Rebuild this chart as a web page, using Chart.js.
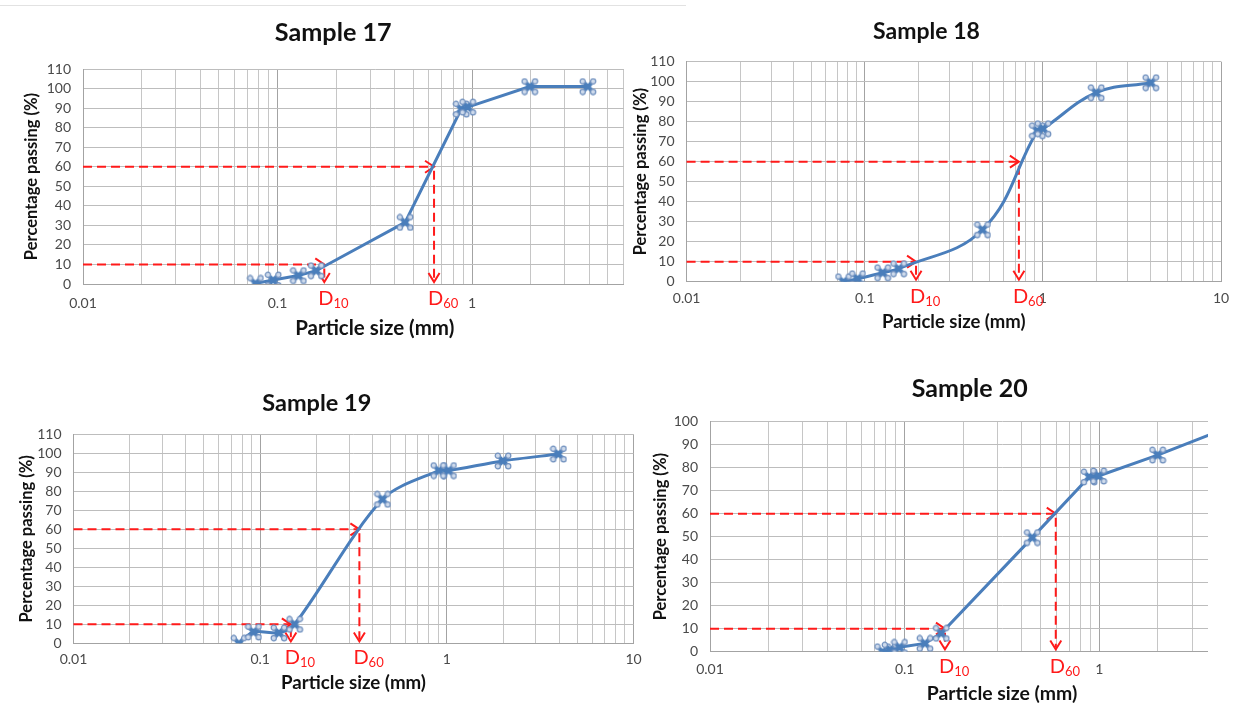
<!DOCTYPE html>
<html>
<head>
<meta charset="utf-8">
<script src="https://cdn.jsdelivr.net/npm/chart.js@4.4.1/dist/chart.umd.min.js"></script>
<style>
  body { margin: 0; background: #fff; width: 1242px; height: 706px; position: relative; overflow: hidden; }
  .panel { position: absolute; overflow: hidden; }
  .panel canvas { display: block; }
  .topline { position: absolute; left: 0; top: 5px; width: 686px; height: 1px; background: #e2e2e2; }
</style>
</head>
<body>
<div class="topline"></div>
<div class="panel" style="left:0;top:0;width:624px;height:345px"><canvas id="c17" width="690" height="345"></canvas></div>
<div class="panel" style="left:624px;top:8px;width:618px;height:332px"><canvas id="c18" width="614" height="332"></canvas></div>
<div class="panel" style="left:0;top:380px;width:650px;height:320px"><canvas id="c19" width="650" height="320"></canvas></div>
<div class="panel" style="left:640px;top:366px;width:568px;height:340px"><canvas id="c20" width="672" height="340"></canvas></div>
<script>
// sieve sizes (mm) and % passing
const size17 = [0.077, 0.095, 0.128, 0.158, 0.453, 0.88, 0.95, 1.98, 3.94];
const pass17 = [0.3, 2, 4.3, 6.8, 31.5, 89.5, 90.5, 101, 101];

const size18 = [0.076, 0.091, 0.126, 0.155, 0.458, 0.93, 1.0, 1.99, 4.03];
const pass18 = [0, 1.5, 4.5, 6.5, 26, 75.5, 76.5, 94.5, 99.5];

const size19 = [0.077, 0.092, 0.126, 0.153, 0.452, 0.906, 1.02, 2.0, 3.96];
const pass19 = [0, 6, 5.5, 10, 75.8, 90.9, 90.9, 96, 99.6];

const size20 = [0.077, 0.084, 0.094, 0.127, 0.154, 0.452, 0.886, 0.99, 1.99, 4.75];
const pass20 = [0, 0.7, 1.9, 3.6, 8, 49.6, 76, 76.4, 85.5, 98];

const sampleTitles = ['Sample 17', 'Sample 18', 'Sample 19', 'Sample 20'];
const d10Values = [0.174, 0.194, 0.146, 0.161];
const d60Values = [0.638, 0.733, 0.34, 0.597];
const yMaxValues = [110, 110, 110, 100];
const tensions = [0, 0.4, 0.3, 0];   // 17 and 20 straight, 18 and 19 smoothed
const xTickLabels = [0.01, 0.1, 1, 10];

const FONT = 'Lato, "Open Sans", sans-serif';
const BLUE = '#4a7ebb';
const RED = '#ff1a1a';

// layout of each panel (pixels inside its canvas)
const layouts = [
  { h: 345, yAxisW: 83,   padRight: 23.5, plotBottom: 284,   plotTop: 69,   titleSize: 25.2, titleCY: 33, xTitleSize: 20.5, xTitleCY: 328, yTitleCX: 32,   xTickPad: 11.5 },
  { h: 332, yAxisW: 62.6, padRight: 9.1,  plotBottom: 273.7, plotTop: 53.7, titleSize: 23,   titleCY: 24, xTitleSize: 18.5, xTitleCY: 314, yTitleCX: 17,   xTickPad: 8.8 },
  { h: 320, yAxisW: 73.5, padRight: 16.5, plotBottom: 263.3, plotTop: 54.3, titleSize: 23.5, titleCY: 23, xTitleSize: 18.7, xTitleCY: 303, yTitleCX: 26.5, xTickPad: 8.2 },
  { h: 340, yAxisW: 70,   padRight: 12.5, plotBottom: 285.7, plotTop: 55.7, titleSize: 25,   titleCY: 23, xTitleSize: 19.4, xTitleCY: 328, yTitleCX: 21,   xTickPad: 9.8 }
];
const Y_TITLE_SIZE = 16.5;

// grid values: 1..9 x each decade
const gridValues = [];
for (let i = 0; i < xTickLabels.length - 1; i++) {
  for (let m = 1; m <= 9; m++) gridValues.push(m * xTickLabels[i]);
}
gridValues.push(xTickLabels[xTickLabels.length - 1]);

function isDecade(v) {
  return xTickLabels.some(t => Math.abs(v / t - 1) < 1e-9);
}

// Excel style marker: blue X with little circles on the tips
function makeMarker() {
  const c = document.createElement('canvas');
  c.width = 18; c.height = 18;
  const g = c.getContext('2d');
  g.strokeStyle = BLUE; g.lineWidth = 4; g.lineCap = 'round';
  g.beginPath(); g.moveTo(4.5, 4.5); g.lineTo(13.5, 13.5); g.moveTo(13.5, 4.5); g.lineTo(4.5, 13.5); g.stroke();
  g.lineWidth = 1.2; g.strokeStyle = '#6d8ebd'; g.fillStyle = '#cfdbec';
  [[3.8, 3.8], [14.2, 3.8], [3.8, 14.2], [14.2, 14.2]].forEach(([x, y]) => {
    g.beginPath(); g.arc(x, y, 2.6, 0, Math.PI * 2); g.fill(); g.stroke();
  });
  return c;
}
const marker = makeMarker();

// red dashed D10 / D60 arrows and labels
const dMarks = {
  id: 'dMarks',
  beforeDatasetsDraw(chart, args, opts) {
    const { ctx } = chart;
    const xs = chart.scales.x, ys = chart.scales.y;
    ctx.save();
    ctx.strokeStyle = RED;
    ctx.lineWidth = 2;
    [opts.d10, opts.d60].forEach((d, k) => {
      const px = xs.getPixelForValue(d);
      const py = ys.getPixelForValue(k === 0 ? 10 : 60);
      const pEnd = ys.getPixelForValue(1);
      ctx.setLineDash([9, 5]);
      ctx.beginPath();
      ctx.moveTo(xs.left, py); ctx.lineTo(px - 2, py);
      ctx.moveTo(px, py + 4); ctx.lineTo(px, pEnd - 2);
      ctx.stroke();
      ctx.setLineDash([]);
      ctx.beginPath();
      ctx.moveTo(px - 9, py - 6); ctx.lineTo(px, py); ctx.lineTo(px - 9, py + 6);
      ctx.moveTo(px - 5.5, pEnd - 9); ctx.lineTo(px, pEnd); ctx.lineTo(px + 5.5, pEnd - 9);
      ctx.stroke();
    });
    ctx.restore();
  },
  afterDraw(chart, args, opts) {
    const { ctx, chartArea } = chart;
    const xs = chart.scales.x;
    ctx.save();
    ctx.fillStyle = RED;
    ctx.textBaseline = 'alphabetic';
    [[opts.d10, '10'], [opts.d60, '60']].forEach(([d, sub]) => {
      const x = xs.getPixelForValue(d) - 6;
      const y = chartArea.bottom + 21;
      ctx.font = '20px ' + FONT;
      ctx.fillText('D', x, y);
      const w = ctx.measureText('D').width;
      ctx.font = '13px ' + FONT;
      ctx.fillText(sub, x + w, y + 3);
    });
    ctx.restore();
  }
};

function buildChart(id, idx, sizes, passing) {
  const lay = layouts[idx];
  const points = sizes.map((s, i) => ({ x: s, y: passing[i] }));
  const tPadTop = lay.titleCY - 0.6 * lay.titleSize;
  const tPadBottom = lay.plotTop - tPadTop - 1.2 * lay.titleSize;
  return new Chart(document.getElementById(id), {
    type: 'line',
    data: {
      datasets: [{
        data: points,
        borderColor: BLUE,
        borderWidth: 3,
        tension: tensions[idx],
        pointStyle: marker,
        pointRadius: 8,
        pointHoverRadius: 8
      }]
    },
    options: {
      responsive: false,
      animation: false,
      layout: { padding: { left: 0, right: lay.padRight, top: 0, bottom: 0 } },
      plugins: {
        legend: { display: false },
        tooltip: { enabled: false },
        title: {
          display: true,
          text: sampleTitles[idx],
          color: '#111',
          font: { family: FONT, size: lay.titleSize, weight: 'bold', lineHeight: 1.2 },
          padding: { top: tPadTop, bottom: tPadBottom }
        },
        dMarks: { d10: d10Values[idx], d60: d60Values[idx] }
      },
      scales: {
        x: {
          type: 'logarithmic',
          min: xTickLabels[0],
          max: xTickLabels[xTickLabels.length - 1],
          afterBuildTicks: axis => { axis.ticks = gridValues.map(v => ({ value: v })); },
          afterFit: axis => { axis.height = lay.h - lay.plotBottom; },
          grid: {
            drawTicks: false,
            color: c => (c.tick && isDecade(c.tick.value)) ? '#a3a3a3' : '#c6c6c6',
            lineWidth: 1
          },
          border: { color: '#a3a3a3' },
          ticks: {
            autoSkip: false,
            maxRotation: 0,
            padding: lay.xTickPad,
            color: '#4a4a4a',
            font: { family: FONT, size: 14 },
            callback: v => isDecade(v) ? String(xTickLabels.find(t => Math.abs(v / t - 1) < 1e-9)) : ''
          },
          title: {
            display: true,
            text: 'Particle size (mm)',
            color: '#111',
            font: { family: FONT, size: lay.xTitleSize, weight: 'bold', lineHeight: 1.2 },
            padding: { top: 0, bottom: lay.h - lay.xTitleCY - 0.6 * lay.xTitleSize }
          }
        },
        y: {
          min: 0,
          max: yMaxValues[idx],
          afterFit: axis => { axis.width = lay.yAxisW; },
          grid: { drawTicks: false, color: '#bdbdbd' },
          border: { color: '#a3a3a3' },
          ticks: {
            stepSize: 10,
            autoSkip: false,
            padding: 12,
            color: '#4a4a4a',
            font: { family: FONT, size: 14 }
          },
          title: {
            display: true,
            text: 'Percentage passing (%)',
            color: '#111',
            font: { family: FONT, size: Y_TITLE_SIZE, weight: 'bold', lineHeight: 1.2 },
            padding: { top: lay.yTitleCX - 0.6 * Y_TITLE_SIZE, bottom: 0 }
          }
        }
      }
    },
    plugins: [dMarks]
  });
}

buildChart('c17', 0, size17, pass17);
buildChart('c18', 1, size18, pass18);
buildChart('c19', 2, size19, pass19);
buildChart('c20', 3, size20, pass20);
</script>
</body>
</html>
